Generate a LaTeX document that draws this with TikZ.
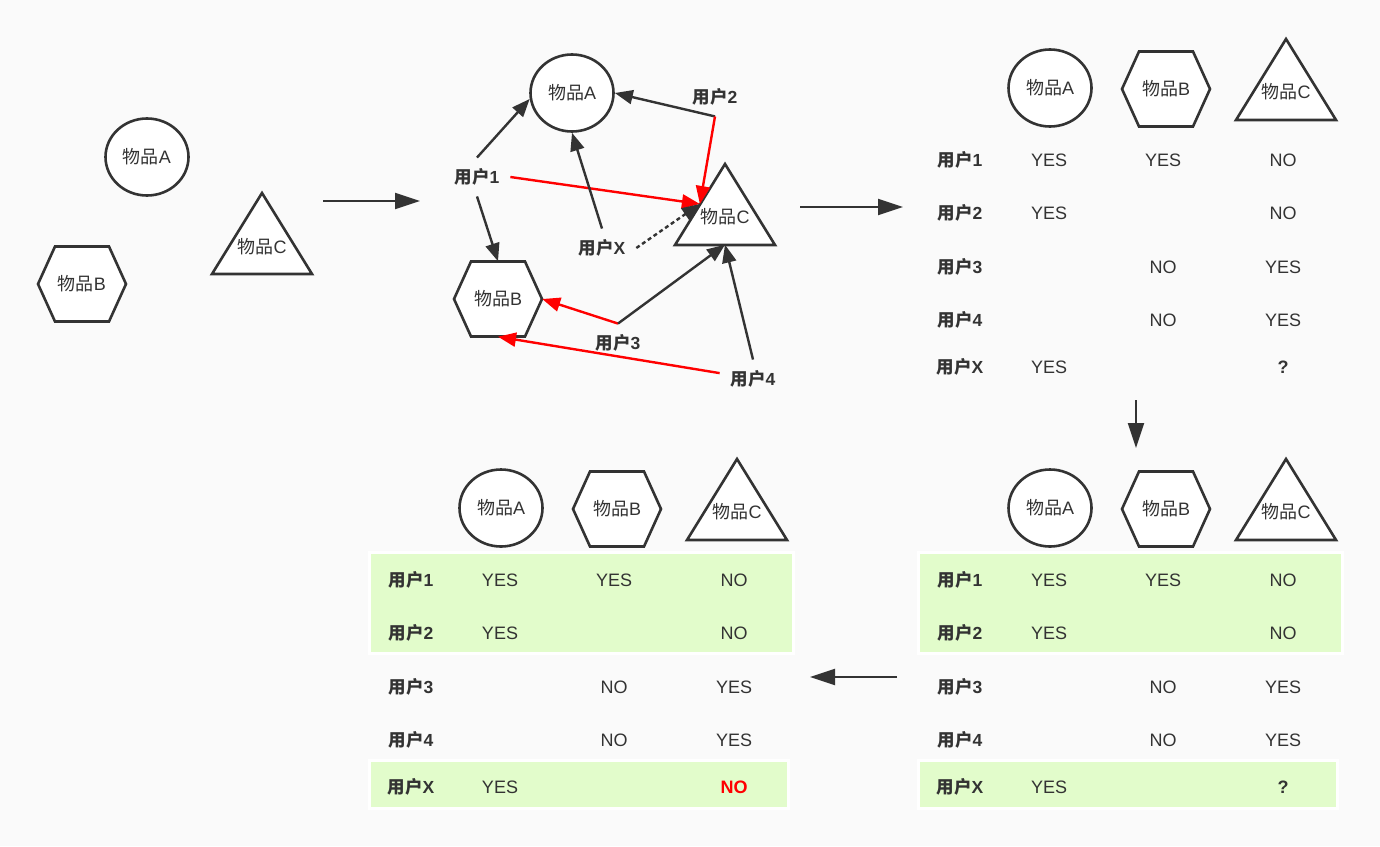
\documentclass[tikz,border=0pt]{standalone}
\usepackage{fontspec}
\setmainfont{Liberation Sans}
\newfontfamily\cjk{Noto Sans CJK SC}
\usetikzlibrary{arrows.meta,shapes.geometric,calc}
\definecolor{ink}{HTML}{333333}
\definecolor{paper}{HTML}{FAFAFA}
\definecolor{hilite}{HTML}{E2FCCB}
\newcommand\itemfont{\fontsize{18}{21}\selectfont}
\newcommand\userfont{\fontsize{17.5}{21}\selectfont\bfseries}
\newcommand\cellfont{\fontsize{18}{21}\selectfont}

\begin{document}
\begin{tikzpicture}[x=1pt,y=-1pt,
  outline/.style={draw=ink,line width=2.6pt,fill=white},
  ellitem/.style={outline,ellipse,minimum width=83pt,minimum height=77pt,inner sep=0pt,text=ink,font=\itemfont},
  box/.style={inner sep=0pt,minimum width=88pt,minimum height=75pt,text=ink,font=\itemfont},
  tribox/.style={inner sep=0pt,minimum width=100pt,minimum height=81pt},
  tritext/.style={text=ink,font=\itemfont,inner sep=1pt},
  user/.style={text=ink,font=\userfont,inner sep=3pt,outer sep=8pt},
  cell/.style={text=ink,font=\cellfont},
  link/.style={draw=ink,line width=2.4pt,-{Triangle[length=18pt,width=14pt]}},
  redlink/.style={link,draw=red},
  guess/.style={link,dash pattern=on 4pt off 3pt},
  flow/.style={draw=ink,line width=2pt,-{Triangle[length=25pt,width=16pt]}},
  band/.style={fill=hilite,draw=white,line width=3pt}]

\path[use as bounding box,fill=paper] (0,0) rectangle (1380,846);

% items alone
\node[ellitem] (lA) at (147,157) {{\cjk 物品}A};
\draw[outline] (82,284) +(-44,0) -- +(-27,-37.5) -- +(27,-37.5) -- +(44,0) -- +(27,37.5) -- +(-27,37.5) -- cycle;
\node[box] (lB) at (82,284) {{\cjk 物品}B};
\draw[outline] (262,233) +(0,-40) -- +(50,41) -- +(-50,41) -- cycle;
\node[tribox] (lC) at (262,233) {};
\node[tritext] (lCt) at (262,247) {{\cjk 物品}C};

\coordinate (p1) at (323,201);
\coordinate (p2) at (420,201);
\draw[flow] (p1) -- (p2);

% users and items
\node[ellitem] (mA) at (572,93) {{\cjk 物品}A};
\draw[outline] (498,299) +(-44,0) -- +(-27,-37.5) -- +(27,-37.5) -- +(44,0) -- +(27,37.5) -- +(-27,37.5) -- cycle;
\node[box] (mB) at (498,299) {{\cjk 物品}B};
\draw[outline] (725,204) +(0,-40) -- +(50,41) -- +(-50,41) -- cycle;
\node[tribox] (mC) at (725,204) {};
\node[tritext] (mCt) at (725,217) {{\cjk 物品}C};
\coordinate (mCl) at ($(mC.north)!.5!(mC.south west)$);

\node[user] (u1) at (477,177) {{\cjk 用户}1};
\node[user] (u2) at (715,97) {{\cjk 用户}2};
\node[user] (ux) at (602,248) {{\cjk 用户}X};
\node[user] (u3) at (618,343) {{\cjk 用户}3};
\node[user] (u4) at (753,379) {{\cjk 用户}4};

\draw[link] (u1.north) -- (mA.188);
\draw[link] (u1.south) -- (mB.north);
\draw[redlink] (u1.east) -- (mCl);
\draw[link] (u2.south) -- (mA.east);
\draw[redlink] (u2.south) -- (mCl);
\draw[link] (ux.north) -- (mA.south);
\draw[guess] (ux.east) -- (mCl);
\draw[redlink] (u3.north) -- (mB.east);
\draw[link] (u3.north) -- (mC.south);
\draw[link] (u4.north) -- (mC.south);
\draw[redlink] (u4.170) -- (mB.south);

\coordinate (p3) at (800,207);
\coordinate (p4) at (903,207);
\draw[flow] (p3) -- (p4);
\coordinate (p5) at (1136,400);
\coordinate (p6) at (1136,448);
\draw[flow] (p5) -- (p6);
\coordinate (p7) at (897,677);
\coordinate (p8) at (810,677);
\draw[flow] (p7) -- (p8);

% similar users
\foreach \dx in {0,-549} {
  \draw[band] (918.5+\dx,552.5) rectangle (1342.5+\dx,653.5);
  \draw[band] (918.5+\dx,760.5) rectangle (1337.5+\dx,808.5);
}

% tables
\foreach \n/\dx/\dy/\last in {1/0/0/{\bfseries ?}, 2/0/420/{\bfseries ?}, 3/-549/420/{\bfseries\color{red}NO}} {
  \begin{scope}[shift={(\dx,\dy)}]
    \node[ellitem] (A\n) at (1050,88) {{\cjk 物品}A};
    \draw[outline] (1166,89) +(-44,0) -- +(-27,-37.5) -- +(27,-37.5) -- +(44,0) -- +(27,37.5) -- +(-27,37.5) -- cycle;
    \node[box] (B\n) at (1166,89) {{\cjk 物品}B};
    \draw[outline] (1286,79) +(0,-40) -- +(50,41) -- +(-50,41) -- cycle;
    \node[tribox] (C\n) at (1286,79) {};
    \node[tritext] (Ct\n) at (1286,92) {{\cjk 物品}C};
    \foreach \r/\y/\a/\b/\c in {1/160/YES/YES/NO, 2/213/YES//NO, 3/267//NO/YES, 4/320//NO/YES, X/367/YES//\last} {
      \node[user] (u\n\r) at (960,\y) {{\cjk 用户}\r};
      \node[cell] (va\n\r) at (1049,\y) {\a};
      \node[cell] (vb\n\r) at (1163,\y) {\b};
      \node[cell] (vc\n\r) at (1283,\y) {\c};
    }
  \end{scope}
}
\end{tikzpicture}
\end{document}
